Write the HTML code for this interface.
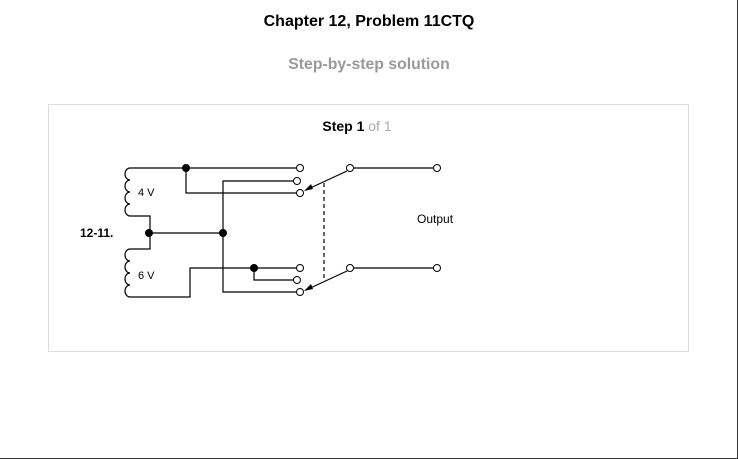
<!DOCTYPE html>
<html><head><style>
body{margin:0;background:#fff;}
</style></head><body>
<svg width="738" height="459" xmlns="http://www.w3.org/2000/svg" style="display:block;font-family:'Liberation Sans',Arial,sans-serif">
<rect x="0" y="0" width="738" height="459" fill="#fff"/>
<line x1="737.5" y1="0" x2="737.5" y2="459" stroke="#333"/>
<line x1="0" y1="458.5" x2="738" y2="458.5" stroke="#333"/>
<text x="369" y="26" text-anchor="middle" font-size="16" font-weight="bold" fill="#000">Chapter 12, Problem 11CTQ</text>
<text x="369" y="69" text-anchor="middle" font-size="15.8" font-weight="bold" fill="#999">Step-by-step solution</text>
<rect x="48.5" y="104.5" width="640" height="247" fill="none" stroke="#ddd"/>
<text x="357" y="131" text-anchor="middle" font-size="14"><tspan font-weight="bold" fill="#000">Step 1</tspan><tspan fill="#aaa"> of 1</tspan></text>
<g stroke="#000" stroke-width="1.2" fill="none">
<path d="M300,168 H130 a5,6 0 0 0 0,12 a5,6 0 0 0 0,12 a5,6 0 0 0 0,12 a5,6 0 0 0 0,12 H150 V249 H130 a5,6 0 0 0 0,12 a5,6 0 0 0 0,12 a5,6 0 0 0 0,12 a5,6 0 0 0 0,12 H190 V268 H296"/>
<path d="M186,168 V193 H296"/>
<path d="M149,233 H223"/>
<path d="M296,181 H223 V292 H296"/>
<path d="M254,268 V280 H296"/>
<path d="M354,168 H433"/>
<path d="M354,268 H433"/>
<path d="M347,171 L306,190"/>
<path d="M347,271 L306,290"/>
<path d="M324,183 V280" stroke-dasharray="4,3"/>
</g>
<g fill="#000">
<circle cx="186" cy="168" r="4"/>
<circle cx="149" cy="233" r="4"/>
<circle cx="223" cy="233" r="4"/>
<circle cx="254" cy="268" r="4"/>
<path d="M304,191 L311,184 L313,189 Z"/>
<path d="M304,291 L311,284 L313,289 Z"/>
</g>
<g fill="#fff" stroke="#000" stroke-width="1">
<circle cx="300" cy="168" r="3.5"/>
<circle cx="297" cy="181" r="3.5"/>
<circle cx="300" cy="193" r="3.5"/>
<circle cx="300" cy="268" r="3.5"/>
<circle cx="297" cy="280" r="3.5"/>
<circle cx="300" cy="292" r="3.5"/>
<circle cx="350" cy="168" r="3.5"/>
<circle cx="350" cy="268" r="3.5"/>
<circle cx="437" cy="168" r="3.5"/>
<circle cx="437" cy="268" r="3.5"/>
</g>
<text x="138" y="196" font-size="11" fill="#000">4 V</text>
<text x="138" y="279" font-size="11" fill="#000">6 V</text>
<text x="80" y="237" font-size="12" font-weight="bold" fill="#000">12-11.</text>
<text x="417" y="223" font-size="12" fill="#000">Output</text>
</svg>
</body></html>
